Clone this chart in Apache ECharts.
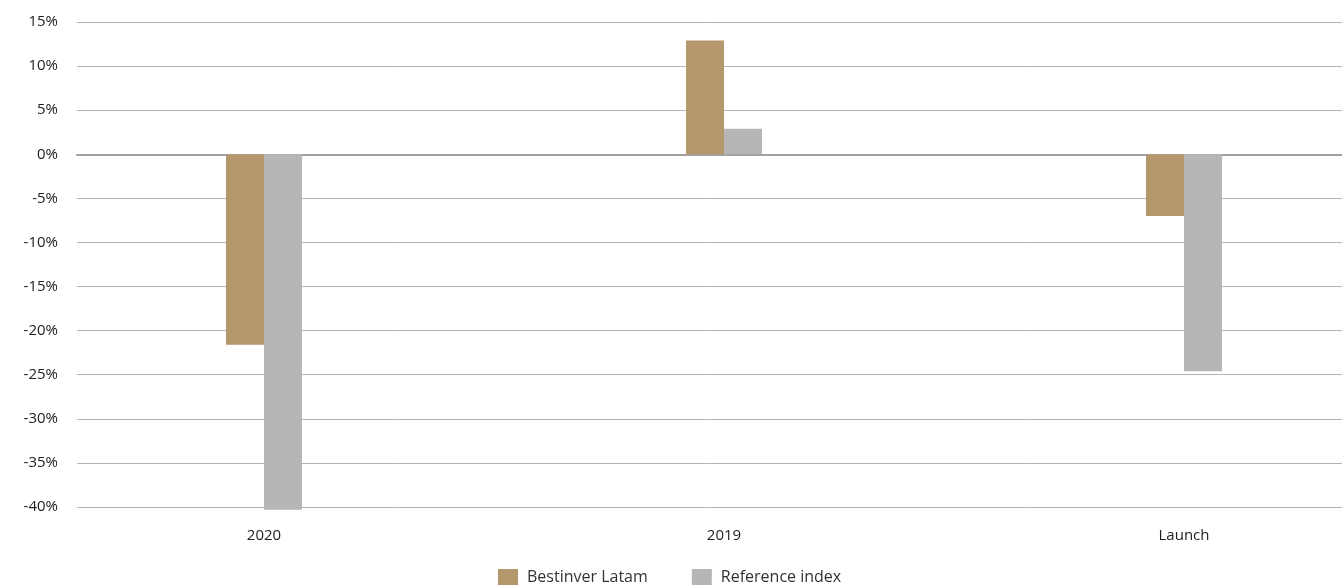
<!DOCTYPE html>
<html><head><meta charset="utf-8">
<script src="https://cdn.jsdelivr.net/npm/echarts@6/dist/echarts.min.js"></script>
<style>html,body{margin:0;padding:0;background:#fff}#c{width:1342px;height:586px}</style>
</head><body><div id="c"></div>
<script>
const categories = ['2020', '2019', 'Launch'];
const bestinver = [-21.6, 12.9, -7.0];
const reference = [-40.3, 2.9, -24.6];
const seriesNames = ['Bestinver Latam', 'Reference index'];
const yMin = -40, yMax = 15, yStep = 5;

const chart = echarts.init(document.getElementById('c'), null, {renderer: 'canvas'});
const font = '"Open Sans", sans-serif';
chart.setOption({
  animation: false,
  textStyle: {fontFamily: font},
  grid: [
    {left: 77, right: 0, top: 22, bottom: 79, outerBoundsMode: 'none', containLabel: false},
    {left: 34, right: -72, top: 22, bottom: 79, outerBoundsMode: 'none', containLabel: false}
  ],
  legend: {
    bottom: -4, left: 493,
    itemWidth: 20, itemHeight: 16, itemGap: 44,
    textStyle: {fontSize: 16, color: '#333', fontFamily: font, padding: [0, 0, 0, 4]},
    data: seriesNames.map(n => ({name: n, icon: 'rect'}))
  },
  xAxis: [
    {gridIndex: 0, type: 'category', data: categories,
     axisLine: {show: true, onZero: true, lineStyle: {color: '#a0a0a0', width: 2}},
     axisTick: {show: false}, axisLabel: {show: false}, splitLine: {show: false}},
    {gridIndex: 1, type: 'category', data: categories,
     axisLine: {show: false, onZero: false}, axisTick: {show: false},
     axisLabel: {fontSize: 15, color: '#222', margin: 21, fontFamily: font}}
  ],
  yAxis: [
    {gridIndex: 0, type: 'value', min: yMin, max: yMax, interval: yStep,
     axisLine: {show: false}, axisTick: {show: false},
     axisLabel: {fontSize: 15, color: '#222', margin: 19, formatter: '{value}%', fontFamily: font},
     splitLine: {show: true, lineStyle: {color: '#b4b4b4', width: 1}}},
    {gridIndex: 1, type: 'value', min: yMin, max: yMax, interval: yStep, show: false,
     splitLine: {show: false}}
  ],
  series: [
    {name: seriesNames[0], type: 'bar', xAxisIndex: 1, yAxisIndex: 1, data: bestinver,
     barWidth: 38, barGap: '0%', clip: false, itemStyle: {color: '#b5976e'}},
    {name: seriesNames[1], type: 'bar', xAxisIndex: 1, yAxisIndex: 1, data: reference,
     barWidth: 38, barGap: '0%', clip: false, itemStyle: {color: '#b6b6b8'}}
  ]
});
</script></body></html>
